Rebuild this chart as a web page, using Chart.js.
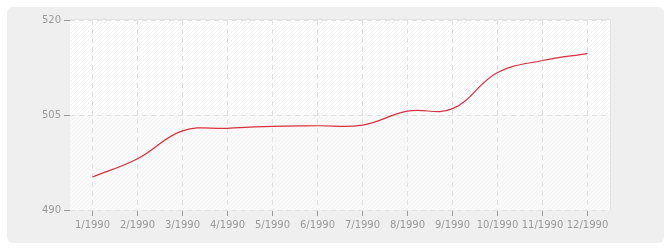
<!DOCTYPE html>
<html>
<head>
<meta charset="utf-8">
<title>Chart</title>
<script src="https://cdn.jsdelivr.net/npm/chart.js@4/dist/chart.umd.min.js"></script>
<style>
  html, body { margin: 0; padding: 0; background: #fff; }
  #wrap { width: 670px; height: 250px; position: relative; }
</style>
</head>
<body>
<div id="wrap"><canvas id="chart" width="670" height="250"></canvas></div>
<script>
// Data
const months = ['1/1990', '2/1990', '3/1990', '4/1990', '5/1990', '6/1990',
                '7/1990', '8/1990', '9/1990', '10/1990', '11/1990', '12/1990'];
const values = [495.2, 498.1, 502.5, 502.9, 503.2, 503.3,
                503.4, 505.6, 506.0, 511.7, 513.6, 514.7];
const yTicks = [490, 505, 520];

// Diagonal hatch pattern
function makeHatch(bg, line) {
    const c = document.createElement('canvas');
    c.width = 4; c.height = 4;
    const g = c.getContext('2d');
    g.fillStyle = bg;
    g.fillRect(0, 0, 4, 4);
    g.fillStyle = line;
    for (let i = 0; i < 4; i++) g.fillRect(i, 3 - i, 1, 1);
    return g.createPattern(c, 'repeat');
}

const backdrop = {
    id: 'backdrop',
    beforeDraw(chart) {
        const ctx = chart.ctx;
        const a = chart.chartArea;
        const y = chart.scales.y;
        ctx.save();
        // outer grey box
        ctx.fillStyle = '#efefef';
        ctx.beginPath();
        ctx.roundRect(7, 7, 657, 236, 6);
        ctx.fill();
        // plot area halves
        const mid = y.getPixelForValue(yTicks[1]);
        ctx.fillStyle = makeHatch('#ffffff', '#f4f4f4');
        ctx.fillRect(a.left, a.top, a.right - a.left, mid - a.top);
        ctx.fillStyle = makeHatch('#fafafa', '#f3f3f3');
        ctx.fillRect(a.left, mid, a.right - a.left, a.bottom - mid);
        ctx.restore();
    },
    afterDraw(chart) {
        const ctx = chart.ctx;
        const a = chart.chartArea;
        ctx.save();
        ctx.strokeStyle = '#e2e2e2';
        ctx.lineWidth = 1;
        ctx.beginPath();
        ctx.moveTo(a.left, a.top - 0.5);
        ctx.lineTo(a.right + 0.5, a.top - 0.5);
        ctx.lineTo(a.right + 0.5, a.bottom);
        ctx.stroke();
        ctx.restore();
    }
};

new Chart(document.getElementById('chart'), {
    type: 'line',
    data: {
        labels: months,
        datasets: [{
            data: values,
            borderColor: '#d8313f',
            borderWidth: 1.2,
            pointRadius: 0,
            fill: false,
            tension: 0.4
        }]
    },
    options: {
        responsive: false,
        animation: false,
        layout: { padding: { left: 0, right: 60, top: 20, bottom: 0 } },
        plugins: { legend: { display: false }, tooltip: { enabled: false } },
        scales: {
            x: {
                offset: true,
                grid: { offset: false, color: '#e2e2e2', tickColor: '#999', tickLength: 6, lineWidth: 1 },
                border: { display: false, dash: [5, 4] },
                ticks: { color: '#999', font: { family: 'DejaVu Sans', size: 10 }, padding: 3, maxRotation: 0, autoSkip: false },
                afterFit(s) { s.height = 40; }
            },
            y: {
                min: 490, max: 520,
                afterBuildTicks(s) { s.ticks = yTicks.map(v => ({ value: v })); },
                grid: { color: '#e2e2e2', tickColor: '#999', tickLength: 6 },
                border: { display: false, dash: [5, 4] },
                ticks: { color: '#999', font: { family: 'DejaVu Sans', size: 10 }, padding: 3 },
                afterFit(s) { s.width = 70; }
            }
        }
    },
    plugins: [backdrop]
});
</script>
</body>
</html>
